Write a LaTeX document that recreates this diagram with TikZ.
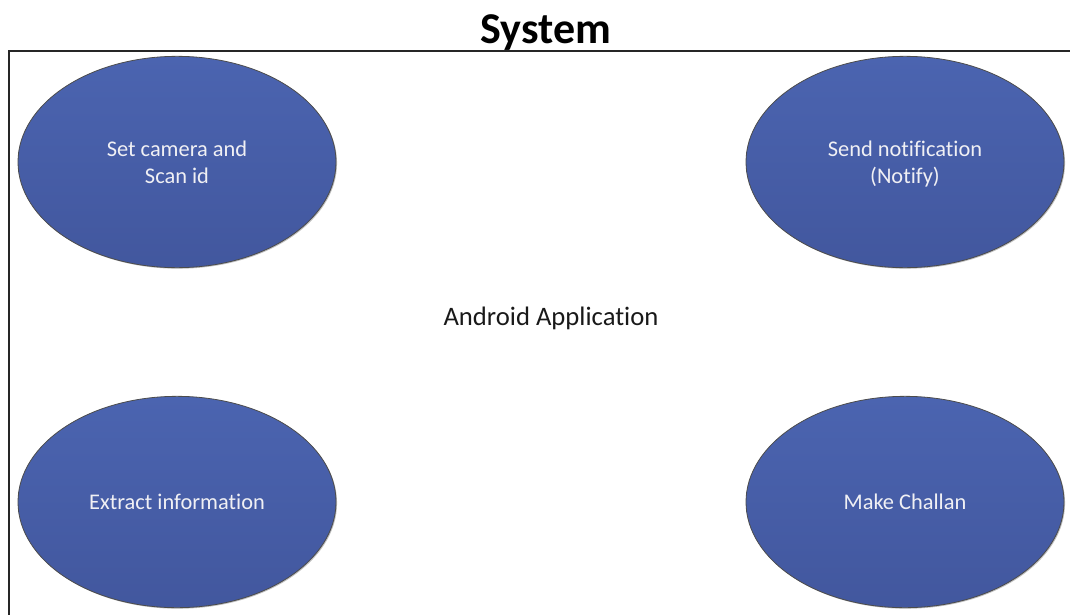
\documentclass[tikz,border=0pt]{standalone}
\usepackage{fontspec}
\setmainfont{Carlito}[Ligatures=NoCommon]
\usetikzlibrary{shapes.geometric,shadows}
\definecolor{usetop}{RGB}{75,100,176}
\definecolor{usebot}{RGB}{66,87,158}
\definecolor{usetext}{RGB}{240,240,244}
\tikzset{
  usecase/.style={ellipse, draw=black!70, line width=0.6pt,
    top color=usetop, bottom color=usebot,
    minimum width=238.5pt, minimum height=158.5pt, inner sep=0pt,
    text=usetext, font=\fontsize{16.8}{20.5}\selectfont, align=center,
    drop shadow={shadow xshift=0.8pt, shadow yshift=-0.8pt, opacity=0.25, fill=black}},
  boundary/.style={draw=black!85, line width=1.3pt},
  title/.style={font=\fontsize{33}{40}\selectfont\bfseries, text=black},
  label/.style={font=\fontsize{20}{24}\selectfont, text=black!90}
}
\begin{document}
\begin{tikzpicture}[x=0.75pt, y=-0.75pt]
  \useasboundingbox (0,0) rectangle (1070,614);
  \begin{scope}
    \clip (0,0) rectangle (1070,614);
    \draw[boundary] (9,51) rectangle (1080,630);
  \end{scope}
  \node[title] (sys) at (546,33) {System};
  \node[label] (app) at (551,318) {Android Application};
  \node[usecase] (scan) at (177,162) {Set camera and\\Scan id};
  \node[usecase] (notify) at (905,162) {\strut Send notification\\(Notify)};
  \node[usecase] (extract) at (177,502) {Extract information};
  \node[usecase] (challan) at (905,502) {Make Challan};
\end{tikzpicture}
\end{document}
